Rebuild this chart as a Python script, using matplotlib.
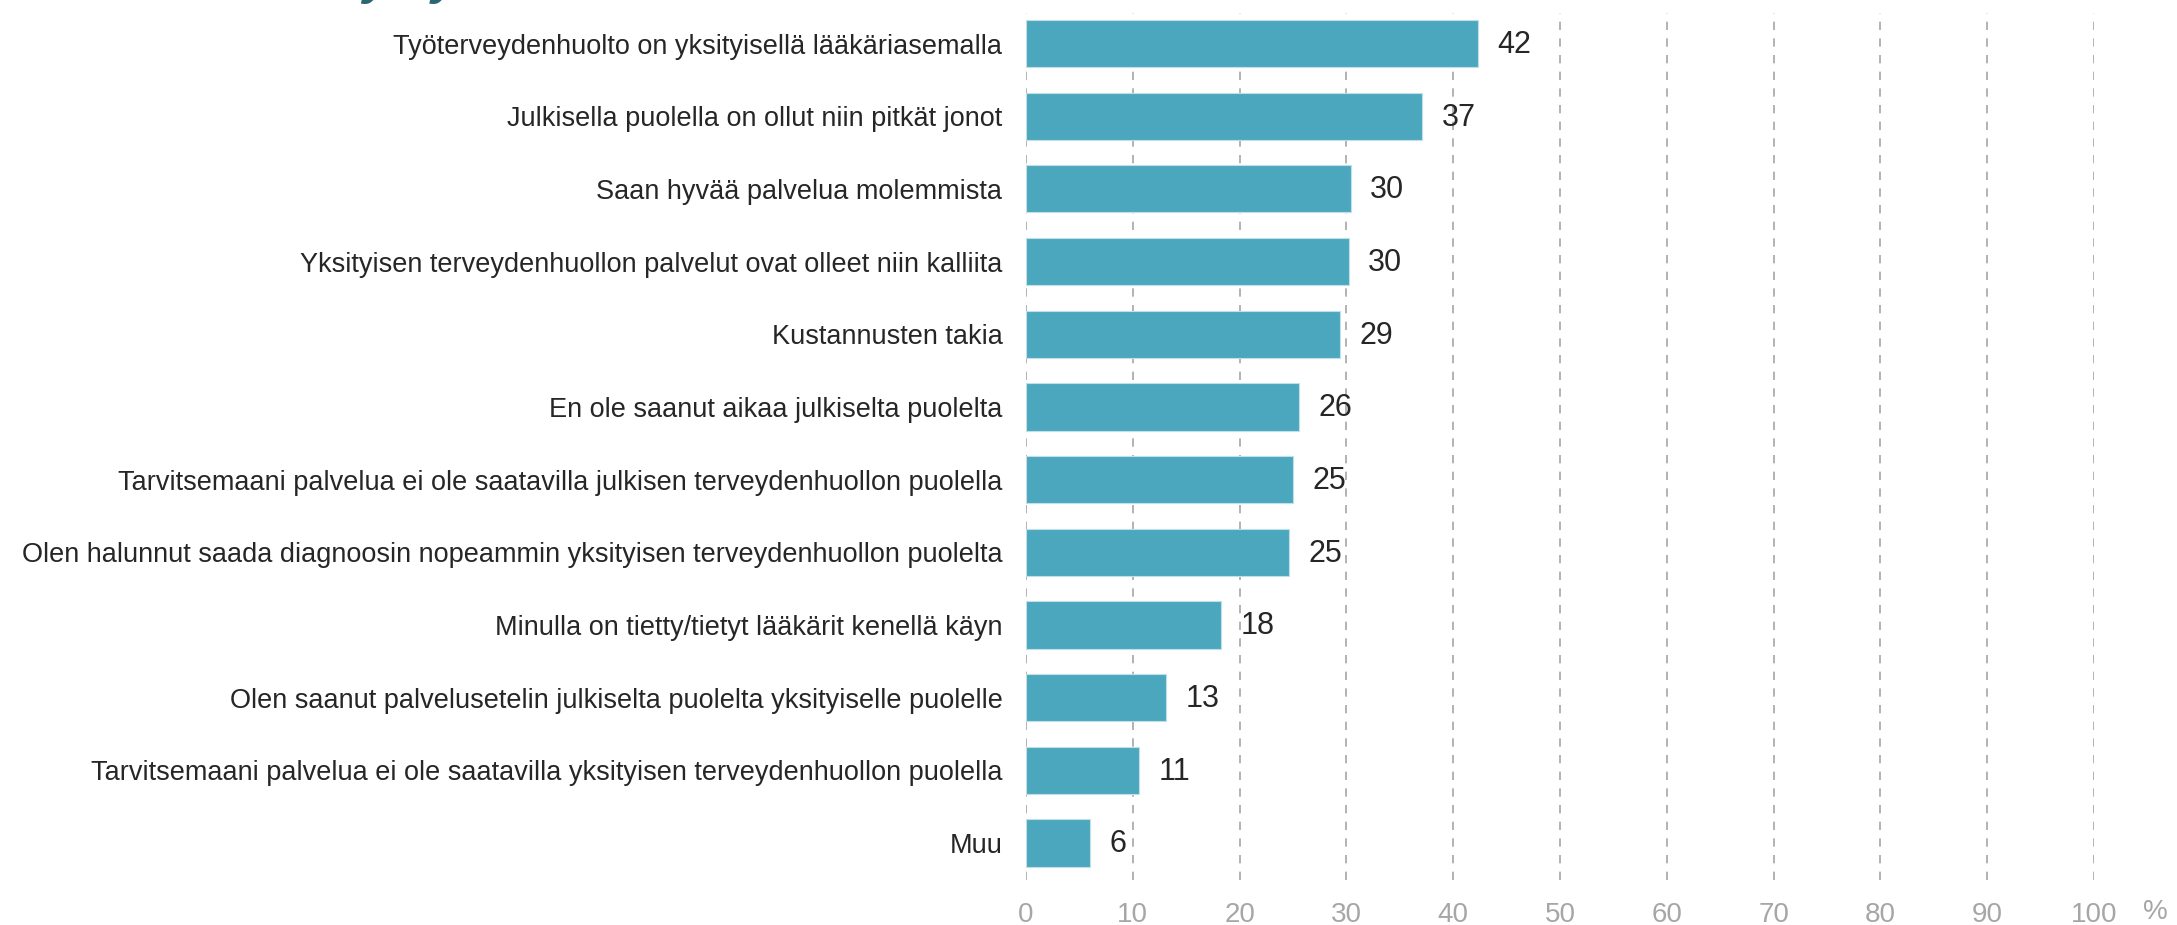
import matplotlib
matplotlib.use("Agg")
import matplotlib.pyplot as plt
from matplotlib import font_manager

categories = [
    "Työterveydenhuolto on yksityisellä lääkäriasemalla",
    "Julkisella puolella on ollut niin pitkät jonot",
    "Saan hyvää palvelua molemmista",
    "Yksityisen terveydenhuollon palvelut ovat olleet niin kalliita",
    "Kustannusten takia",
    "En ole saanut aikaa julkiselta puolelta",
    "Tarvitsemaani palvelua ei ole saatavilla julkisen terveydenhuollon puolella",
    "Olen halunnut saada diagnoosin nopeammin yksityisen terveydenhuollon puolelta",
    "Minulla on tietty/tietyt lääkärit kenellä käyn",
    "Olen saanut palvelusetelin julkiselta puolelta yksityiselle puolelle",
    "Tarvitsemaani palvelua ei ole saatavilla yksityisen terveydenhuollon puolella",
    "Muu",
]
values = [42.3, 37.1, 30.4, 30.2, 29.4, 25.6, 25.0, 24.6, 18.3, 13.1, 10.6, 6.0]
xticks = [0, 10, 20, 30, 40, 50, 60, 70, 80, 90, 100]

names = {f.name for f in font_manager.fontManager.ttflist}
font = "Liberation Sans Narrow" if "Liberation Sans Narrow" in names else "Liberation Sans"
plt.rcParams['font.family'] = [font, 'DejaVu Sans']

W, H = 2177, 925
fig = plt.figure(figsize=(W / 100, H / 100), dpi=100)
ax = fig.add_axes([1026 / W, 45 / H, (2094 - 1026) / W, (912 - 45) / H])

pos = list(range(len(categories)))
ax.barh(pos, values, height=0.65, color="#4BA7BD", edgecolor="#BFE0E8", linewidth=0.8, zorder=3)
for p, v in zip(pos, values):
    ax.annotate(f"{v:.0f}", (v, p), xytext=(14, -1), textcoords="offset points",
                va="center", ha="left", fontsize=22, color="#262626")

ax.set_xlim(0, 100)
ax.set_ylim(11.51, -0.42)
ax.set_yticks(pos)
ax.set_yticklabels(categories, fontsize=19.5, color="#262626")
ax.set_xticks(xticks)
ax.set_xticklabels([str(t) for t in xticks], fontsize=20, color="#A6A6A6")
ax.tick_params(axis="y", length=0, pad=17)
ax.tick_params(axis="x", length=0, pad=16)
for s in ax.spines.values():
    s.set_visible(False)
for t in xticks:
    ax.axvline(t, color="#A6A6A6", lw=1.2, ls=(0, (5, 5)), zorder=1)

fig.text(2155 / W, 1 - 912 / H, "%", fontsize=20, color="#A6A6A6", ha="center", va="center")
fig.text(362 / W, 1 + 6 / H, "y   y", fontsize=36, fontweight="bold", style="italic",
         color="#2A6673", ha="left", va="baseline")

fig.savefig("out.png", dpi=100)
